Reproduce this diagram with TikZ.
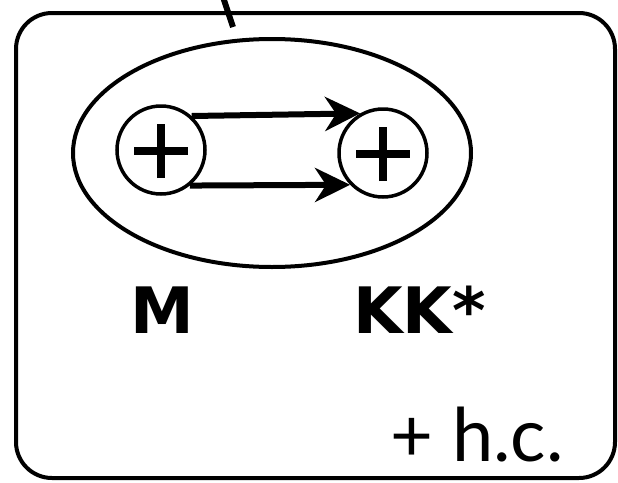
\documentclass[tikz,border=0pt]{standalone}
\usepackage{fontspec}
\setmainfont{Lato}
\newfontfamily\heavy{DejaVu Sans}
\usetikzlibrary{arrows.meta,shapes.geometric}
\begin{document}
\begin{tikzpicture}[x=1pt,y=-1pt,
  box/.style={draw,line width=4pt,rounded corners=36pt},
  oval/.style={draw,ellipse,line width=4pt,minimum width=398pt,minimum height=228pt,inner sep=0pt},
  charge/.style={draw,circle,line width=3.5pt,minimum size=88pt,inner sep=0pt,fill=white},
  plusbar/.style={line width=8pt},
  flow/.style={line width=6pt,-{Stealth[length=35pt,width=34pt,inset=11pt]}},
  bold/.style={font=\fontsize{64}{64}\selectfont\heavy\bfseries,inner sep=0pt},
  plain/.style={font=\fontsize{74}{74}\selectfont,inner sep=0pt}]
\useasboundingbox (0,0) rectangle (618,482);
% outer box
\draw[box] (16,13) rectangle (615,478);
% slash at top
\coordinate (s1) at (223,-3);
\coordinate (s2) at (233,27);
\draw[line width=6pt] (s1) -- (s2);
% ellipse
\node[oval] (E) at (272,153) {};
% charges
\node[charge] (L) at (161,150) {};
\node[charge] (R) at (383,153) {};
\foreach \n in {L,R}{
  \draw[plusbar] ([xshift=-27pt,yshift=-1pt]\n.center) -- ([xshift=27pt,yshift=-1pt]\n.center);
  \draw[plusbar] ([yshift=-28pt]\n.center) -- ([yshift=26pt]\n.center);
}
% arrows
\draw[flow] (L.48) -- (R.120);
\draw[flow] (L.-51) -- (R.224);
% labels
\node[bold,anchor=base west] (M) at (130,333) {M};
\node[bold,anchor=base west] (K) at (353,333) {KK*};
\node[plain,anchor=base west] (hc) at (390,461) {+ h.c.};
\end{tikzpicture}
\end{document}
